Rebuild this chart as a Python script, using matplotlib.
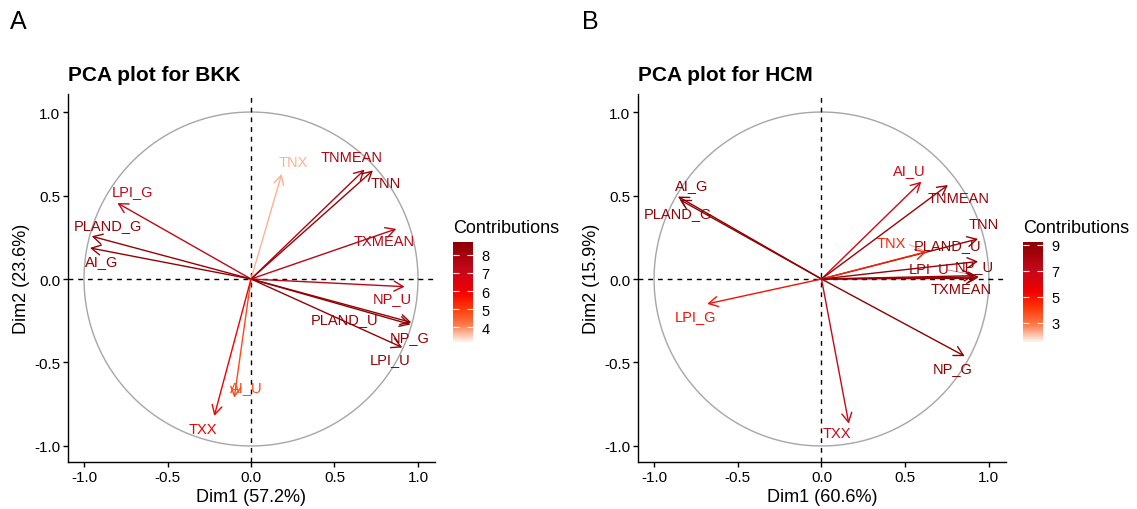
import matplotlib
matplotlib.use('Agg')
import matplotlib.pyplot as plt
import matplotlib.colors as mcolors
import matplotlib.cm as cm
import numpy as np

plt.rcParams['font.family'] = ['Liberation Sans', 'DejaVu Sans']
plt.rcParams['axes.unicode_minus'] = False

# ---- data ----
bkk_vars = ['TNX', 'TNMEAN', 'TNN', 'TXMEAN', 'LPI_G', 'PLAND_G', 'AI_G',
            'NP_U', 'PLAND_U', 'NP_G', 'LPI_U', 'AI_U', 'TXX']
bkk_dim1 = [0.184, 0.68, 0.73, 0.87, -0.80, -0.954, -0.964,
            0.92, 0.96, 0.955, 0.906, -0.10, -0.22]
bkk_dim2 = [0.629, 0.655, 0.65, 0.30, 0.455, 0.256, 0.186,
            -0.046, -0.26, -0.272, -0.41, -0.71, -0.82]
bkk_contrib = [3.7, 7.8, 8.3, 7.5, 7.3, 8.4, 8.5,
               7.4, 8.4, 8.6, 8.5, 4.8, 6.0]

hcm_vars = ['AI_U', 'TNMEAN', 'TNN', 'PLAND_U', 'TNX', 'LPI_U', 'NP_U',
            'TXMEAN', 'AI_G', 'PLAND_G', 'LPI_G', 'NP_G', 'TXX']
hcm_dim1 = [0.596, 0.755, 0.935, 0.935, 0.626, 0.915, 0.94,
            0.93, -0.857, -0.846, -0.683, 0.855, 0.163]
hcm_dim2 = [0.583, 0.563, 0.24, 0.105, 0.163, 0.02, 0.012,
            0.004, 0.494, 0.475, -0.149, -0.462, -0.866]
hcm_contrib = [6.6, 8.6, 8.9, 8.8, 4.6, 8.4, 8.9,
               8.8, 9.2, 9.0, 5.0, 9.2, 7.0]

# label offsets from arrow tips (layout only, mimics ggrepel placement)
bkk_label_off = {'TNX': (0.067, 0.071), 'TNMEAN': (-0.075, 0.076), 'TNN': (0.078, -0.075),
                 'TXMEAN': (-0.074, -0.072), 'LPI_G': (0.093, 0.072), 'PLAND_G': (0.098, 0.067),
                 'AI_G': (0.07, -0.076), 'NP_U': (-0.072, -0.07), 'PLAND_U': (-0.397, 0.02),
                 'NP_G': (-0.007, -0.077), 'LPI_U': (-0.074, -0.069), 'AI_U': (0.074, 0.061),
                 'TXX': (-0.069, -0.078)}
hcm_label_off = {'AI_U': (-0.069, 0.07), 'TNMEAN': (0.065, -0.075), 'TNN': (0.032, 0.088),
                 'PLAND_U': (-0.181, 0.098), 'TNX': (-0.21, 0.052), 'LPI_U': (-0.27, 0.044),
                 'NP_U': (-0.027, 0.068), 'TXMEAN': (-0.096, -0.064), 'AI_G': (0.079, 0.067),
                 'PLAND_G': (-0.01, -0.077), 'LPI_G': (-0.069, -0.07), 'NP_G': (-0.071, -0.071),
                 'TXX': (-0.071, -0.059)}
segment_labels = {'hcm': ['TNX', 'LPI_U']}

cmap = mcolors.LinearSegmentedColormap.from_list(
    'contrib', [(0.0, '#FFF4EE'), (0.17, '#FF7A4A'), (0.33, '#FF3A08'),
                (0.5, '#F20000'), (0.72, '#C4081A'), (1.0, '#8B0000')])


def pca_panel(fig, rect, cbar_rect, names, d1, d2, contrib, offs, segs,
              lims, ticks, title, xlab, ylab, letter, letter_x):
    ax = fig.add_axes(rect)
    norm = mcolors.Normalize(vmin=lims[0], vmax=lims[1])

    t = np.linspace(0, 2 * np.pi, 400)
    ax.plot(np.cos(t), np.sin(t), color='#A6A6A6', lw=1.0, zorder=1)
    ax.axhline(0, color='black', lw=1.0, ls=(0, (3.5, 3.5)), zorder=1)
    ax.axvline(0, color='black', lw=1.0, ls=(0, (3.5, 3.5)), zorder=1)

    for name, x, y, c in zip(names, d1, d2, contrib):
        col = cmap(norm(c))
        ax.annotate('', xy=(x, y), xytext=(0, 0),
                    arrowprops=dict(arrowstyle='->,head_length=0.55,head_width=0.3',
                                    color=col, lw=1.0, shrinkA=0, shrinkB=0,
                                    mutation_scale=12), zorder=3)
        dx, dy = offs[name]
        ax.text(x + dx, y + dy, name, color=col, fontsize=10.5,
                ha='center', va='center', zorder=4)
        if name in segs:
            ax.plot([x + dx + 0.11, x - 0.01], [y + dy - 0.01, y + 0.005],
                    color=col, lw=0.5, alpha=0.6, zorder=2)

    ax.set_xlim(-1.096, 1.102)
    ax.set_ylim(-1.096, 1.108)
    ax.set_xticks([-1.0, -0.5, 0.0, 0.5, 1.0])
    ax.set_yticks([-1.0, -0.5, 0.0, 0.5, 1.0])
    ax.set_xticklabels(['-1.0', '-0.5', '0.0', '0.5', '1.0'])
    ax.set_yticklabels(['-1.0', '-0.5', '0.0', '0.5', '1.0'])
    for s in ['top', 'right']:
        ax.spines[s].set_visible(False)
    for s in ['left', 'bottom']:
        ax.spines[s].set_linewidth(1.0)
    ax.tick_params(length=3.5, width=1.0, labelsize=11, colors='black', pad=2)
    ax.set_xlabel(xlab, fontsize=13, labelpad=3)
    ax.set_ylabel(ylab, fontsize=13, labelpad=3)
    ax.set_title(title, loc='left', fontweight='bold', fontsize=15, pad=10)

    cax = fig.add_axes(cbar_rect)
    cb = fig.colorbar(cm.ScalarMappable(norm=norm, cmap=cmap), cax=cax, ticks=ticks)
    cb.outline.set_visible(False)
    cax.tick_params(length=4, width=0.8, color='white', direction='in',
                    left=True, right=True, labelsize=10.5, pad=6)
    cax.set_title('Contributions', fontsize=13, loc='left', pad=7, x=0.0)

    fig.text(letter_x, 1 - 22 / 510, letter, fontsize=18, va='center', ha='left')
    return ax


fig = plt.figure(figsize=(11.37, 5.1), dpi=100)
W, H = 1137, 510

pca_panel(fig, [68 / W, 47 / H, 367 / W, 368 / H], [453 / W, 167 / H, 20 / W, 100 / H],
          bkk_vars, bkk_dim1, bkk_dim2, bkk_contrib, bkk_label_off, [],
          (3.17, 8.72), [4, 5, 6, 7, 8], 'PCA plot for BKK',
          'Dim1 (57.2%)', 'Dim2 (23.6%)', 'A', 10 / W)

pca_panel(fig, [638 / W, 47 / H, 368 / W, 368 / H], [1023 / W, 167 / H, 20 / W, 100 / H],
          hcm_vars, hcm_dim1, hcm_dim2, hcm_contrib, hcm_label_off, segment_labels['hcm'],
          (1.52, 9.23), [3, 5, 7, 9], 'PCA plot for HCM',
          'Dim1 (60.6%)', 'Dim2 (15.9%)', 'B', 582 / W)

fig.savefig('out.png', dpi=100, facecolor='white')
